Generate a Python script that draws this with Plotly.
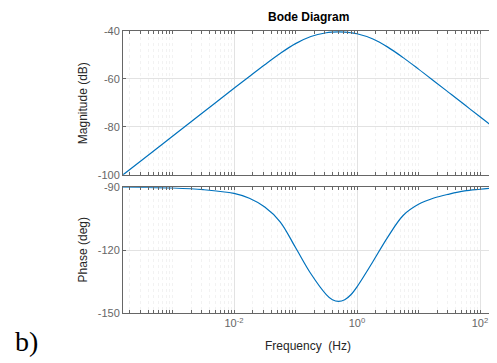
import math
import plotly.graph_objects as go

# ---- data ----
freq_hz = [1.567e-4, 3.162e-4, 1e-3, 3.162e-3, 1e-2, 0.01778, 0.03162, 0.05623,
           0.1, 0.1778, 0.3162, 0.3981, 0.5012, 0.6310, 0.7943, 1.0, 1.778, 3.162, 5.623,
           10.0, 17.78, 31.62, 56.23, 100.0, 162.6]
magnitude_db = [-100.0, -93.9, -83.9, -73.9, -63.9, -58.95, -54.06, -49.38,
                -45.26, -42.28, -40.74, -40.48, -40.39, -40.47, -40.73, -41.16, -43.25, -46.73, -51.11,
                -55.90, -60.83, -65.81, -70.80, -75.8, -80.0]
phase_deg = [-90.0, -90.1, -90.4, -91.2, -93.0, -95.3, -99.5, -106.5,
             -118.8, -131.3, -141.2, -143.7, -144.5, -143.7, -141.3, -137.5, -125.9, -113.8, -103.5,
             -98.2, -95.2, -93.3, -91.8, -91.0, -90.4]

x_tick_vals = [1e-2, 1, 1e2]
x_tick_text = ["10<sup>-2</sup>", "10<sup>0</sup>", "10<sup>2</sup>"]
mag_ticks = [-100, -80, -60, -40]
mag_tick_text = ["-100", "-80", "-60", "-40"]
phase_ticks = [-150, -120, -90]
phase_tick_text = ["-150", "-120", "-90"]

FONT = "Liberation Sans, Arial, sans-serif"
AX = "#666666"
LINE = "#0072BD"

fig = go.Figure()
fig.add_trace(go.Scatter(x=freq_hz, y=magnitude_db, mode="lines",
                         line=dict(color=LINE, width=1.2, shape="spline"),
                         xaxis="x", yaxis="y", showlegend=False))
fig.add_trace(go.Scatter(x=freq_hz, y=phase_deg, mode="lines",
                         line=dict(color=LINE, width=1.2, shape="spline"),
                         xaxis="x2", yaxis="y2", showlegend=False))

xr = [math.log10(freq_hz[0]), math.log10(freq_hz[-1])]

def xaxis(anchor, labels):
    return dict(type="log", range=xr, anchor=anchor, domain=[0, 1],
                tickmode="array", tickvals=x_tick_vals, ticktext=x_tick_text,
                showticklabels=labels,
                tickfont=dict(family=FONT, size=11, color=AX),
                showline=True, linecolor=AX, linewidth=1, mirror="allticks",
                ticks="inside", ticklen=3, tickcolor=AX,
                showgrid=True, gridcolor="#e2e2e2", gridwidth=1, zeroline=False,
                minor=dict(dtick="D1", ticks="inside", ticklen=3, tickcolor=AX,
                           showgrid=True, gridcolor="#f2f2f2", griddash="dot"))

def yaxis(anchor, dom, rng, tv, tt):
    return dict(anchor=anchor, domain=dom, range=rng, tickmode="array",
                tickvals=tv, ticktext=tt,
                tickfont=dict(family=FONT, size=11, color=AX),
                showline=True, linecolor=AX, linewidth=1, mirror="allticks",
                ticks="inside", ticklen=3, tickcolor=AX,
                showgrid=True, gridcolor="#e2e2e2", gridwidth=1, zeroline=False)

# the page body adds an 8px offset, so the figure is sized/margined to compensate
fig.update_layout(
    width=489, height=355,
    margin=dict(l=115, r=4, t=23, b=50),
    paper_bgcolor="white", plot_bgcolor="white",
    font=dict(family=FONT, size=11, color="#262626"),
    xaxis=xaxis("y", False),
    xaxis2=xaxis("y2", True),
    yaxis=yaxis("x", [0.49, 1.0], [-100, -40], mag_ticks, mag_tick_text),
    yaxis2=yaxis("x2", [0.0, 0.4463], [-150, -90], phase_ticks, phase_tick_text),
    annotations=[
        dict(text="<b>Bode Diagram</b>", xref="paper", yref="paper", x=0.5, y=1.0496,
             xanchor="center", yanchor="middle", showarrow=False,
             font=dict(family=FONT, size=12, color="black")),
        dict(text="Magnitude (dB)", xref="paper", yref="paper", x=-0.1073, y=0.745,
             xanchor="center", yanchor="middle", textangle=-90, showarrow=False,
             font=dict(family=FONT, size=12, color="#262626")),
        dict(text="Phase (deg)", xref="paper", yref="paper", x=-0.1073, y=0.2231,
             xanchor="center", yanchor="middle", textangle=-90, showarrow=False,
             font=dict(family=FONT, size=12, color="#262626")),
        dict(text="Frequency\u00a0 (Hz)", xref="paper", yref="paper", x=0.5, y=-0.1183,
             xanchor="center", yanchor="middle", showarrow=False,
             font=dict(family=FONT, size=12, color="#262626")),
        dict(text="b)", xref="paper", yref="paper", x=-0.262, y=-0.1,
             xanchor="center", yanchor="middle", showarrow=False,
             font=dict(family="Liberation Serif, Times New Roman, serif", size=28, color="black")),
    ],
)

fig.write_html("out.html")
